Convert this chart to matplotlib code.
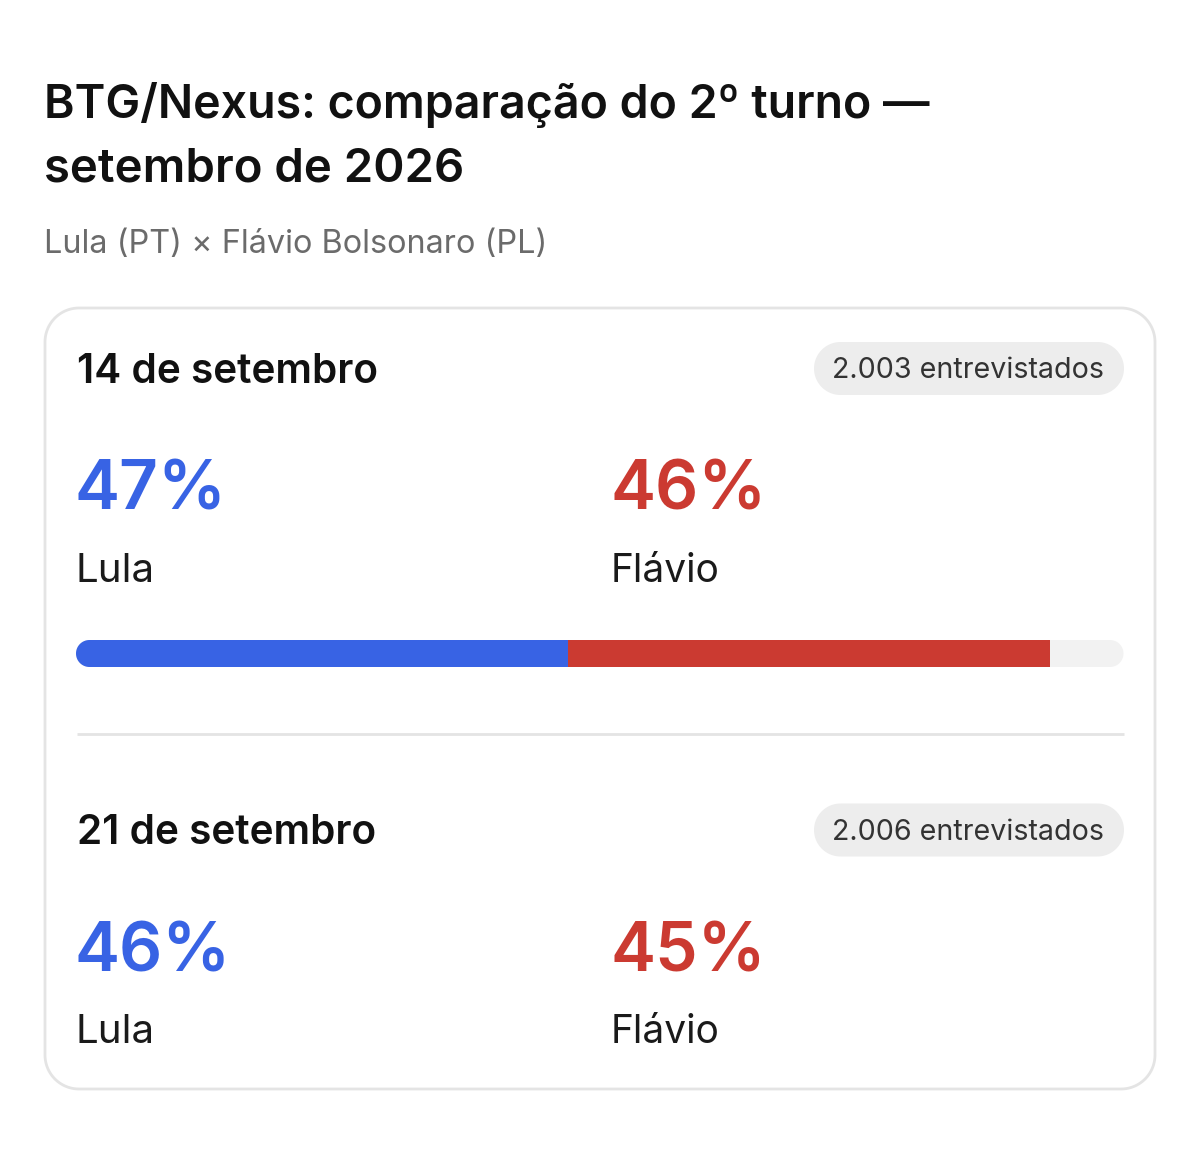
import numpy as np
import matplotlib
matplotlib.use('Agg')
import matplotlib.pyplot as plt
from matplotlib.patches import PathPatch, Rectangle
from matplotlib.path import Path

plt.rcParams['font.family'] = ['Inter', 'DejaVu Sans']

title_lines = ['BTG/Nexus: comparação do 2º turno —', 'setembro de 2026']
subtitle = 'Lula (PT) × Flávio Bolsonaro (PL)'
dates = ['14 de setembro', '21 de setembro']
samples = ['2.003 entrevistados', '2.006 entrevistados']
names = ['Lula', 'Flávio']
lula = [47, 46]
flavio = [46, 45]

BLUE = '#3863E4'
RED = '#CB3A31'
TRACK = '#F2F2F2'
BORDER = '#E4E4E4'

fig = plt.figure(figsize=(12, 11.55), dpi=100)
ax = fig.add_axes([0, 0, 1, 1])
ax.set_xlim(0, 1200)
ax.set_ylim(1155, 0)
ax.axis('off')


def rounded(x, y, w, h, r, **kw):
    # true circular corners, boxstyle round looks too square on the pills
    pts = []
    corners = [(x + w - r, y + r, -90), (x + w - r, y + h - r, 0),
               (x + r, y + h - r, 90), (x + r, y + r, 180)]
    for cx, cy, start in corners:
        t = np.radians(np.linspace(start, start + 90, 24))
        pts.extend(zip(cx + r * np.cos(t), cy + r * np.sin(t)))
    pts.append(pts[0])
    p = PathPatch(Path(pts, closed=True), **kw)
    ax.add_patch(p)
    return p


def card_block(top, i):
    ax.text(77, top + 372, dates[i], fontsize=29.2, fontweight=600, color='#111111', va='center')
    rounded(814, top + 342, 310, 53, 26.5, fc='#EDEDED', ec='none')
    ax.text(968.5, top + 371, samples[i], fontsize=20.6, color='#333333', va='center', ha='center')
    ax.text(75, top + 492, '%d%%' % lula[i], fontsize=48.8, fontweight=600, color=BLUE, va='center')
    ax.text(610, top + 492, '%d%%' % flavio[i], fontsize=48.8, fontweight=600, color=RED, va='center')
    ax.text(75.5, top + 571, names[0], fontsize=29, color='#1a1a1a', va='center')
    ax.text(611, top + 571, names[1], fontsize=28, color='#1a1a1a', va='center')


ax.text(44, 105, title_lines[0], fontsize=33.5, fontweight=600, color='#111111', va='center')
ax.text(44, 169, title_lines[1], fontsize=34.1, fontweight=600, color='#111111', va='center')
ax.text(44, 244.5, subtitle, fontsize=23.35, color='#6b6b6b', va='center')

rounded(45, 308, 1110, 781, 34, fc='white', ec=BORDER, lw=2)

card_block(0, 0)
card_block(461.5, 1)

# stacked bar, drawn from the first poll's values
bar_x, bar_w, bar_y, bar_h = 76, 1047.5, 640, 27
rounded(bar_x, bar_y, bar_w, bar_h, 13.5, fc=TRACK, ec='none')
clip = rounded(bar_x, bar_y, bar_w, bar_h, 13.5, fc='none', ec='none')
left = bar_x
for val, col in zip([lula[0], flavio[0]], [BLUE, RED]):
    seg = Rectangle((left, bar_y), bar_w * val / 100, bar_h, fc=col, ec='none')
    ax.add_patch(seg)
    seg.set_clip_path(clip)
    left += bar_w * val / 100

ax.plot([76.5, 1123.5], [733.5, 733.5], color=BORDER, lw=2, solid_capstyle='butt')

fig.savefig('out.png', dpi=100)
